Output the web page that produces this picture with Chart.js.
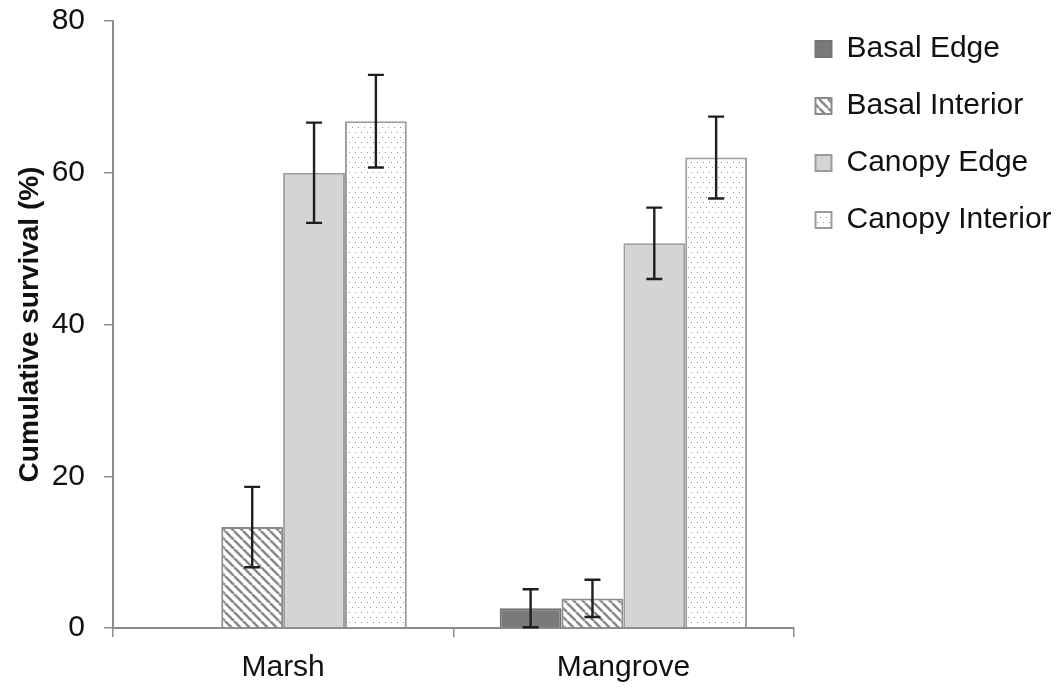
<!DOCTYPE html>
<html>
<head>
<meta charset="utf-8">
<script src="https://cdn.jsdelivr.net/npm/chart.js@4/dist/chart.umd.min.js"></script>
<style>
html, body { margin: 0; padding: 0; background: #ffffff; }
canvas { display: block; }
</style>
</head>
<body>
<canvas id="chart" width="1063" height="689"></canvas>
<script>
// ---- data ----
const categories = ['Marsh', 'Mangrove'];
const seriesNames = ['Basal Edge', 'Basal Interior', 'Canopy Edge', 'Canopy Interior'];
const basalEdge = [0, 2.6];
const basalInterior = [13.3, 3.9];
const canopyEdge = [60.0, 50.7];
const canopyInterior = [66.8, 62.0];
const basalEdgeErr = [0, 2.5];
const basalInteriorErr = [5.3, 2.45];
const canopyEdgeErr = [6.6, 4.7];
const canopyInteriorErr = [6.1, 5.4];
const yTicks = [0, 20, 40, 60, 80];
const yTitle = 'Cumulative survival (%)';

const FONT = "'Liberation Sans', Arial, Helvetica, sans-serif";

// ---- fill patterns ----
function stripePattern() {
  const s = 9;
  const c = document.createElement('canvas');
  c.width = s; c.height = s;
  const g = c.getContext('2d');
  g.fillStyle = '#ffffff';
  g.fillRect(0, 0, s, s);
  g.strokeStyle = '#8a8a8a';
  g.lineWidth = 2.6;
  g.beginPath();
  [-s, 0, s].forEach(o => { g.moveTo(o, 0); g.lineTo(o + s, s); });
  g.stroke();
  return g.createPattern(c, 'repeat');
}
function dotPattern() {
  const w = 6, h = 10;
  const c = document.createElement('canvas');
  c.width = w; c.height = h;
  const g = c.getContext('2d');
  g.fillStyle = '#ffffff';
  g.fillRect(0, 0, w, h);
  g.fillStyle = '#8f8f8f';
  g.fillRect(1, 2, 1, 1);
  g.fillRect(4, 7, 1, 1);
  return g.createPattern(c, 'repeat');
}

// ---- error bars drawn through the y scale ----
const errorBarPlugin = {
  id: 'errorBars',
  afterDatasetsDraw(chart) {
    const ctx = chart.ctx;
    const yScale = chart.scales.y;
    chart.data.datasets.forEach((ds, di) => {
      const meta = chart.getDatasetMeta(di);
      meta.data.forEach((bar, i) => {
        const e = ds.errors[i];
        if (!e) return;
        const v = ds.data[i];
        const yt = yScale.getPixelForValue(v + e);
        const yb = yScale.getPixelForValue(Math.max(v - e, 0));
        const x = bar.x;
        const cap = 8;
        ctx.save();
        ctx.strokeStyle = '#1e1e1e';
        ctx.lineWidth = 2.4;
        ctx.beginPath();
        ctx.moveTo(x, yt); ctx.lineTo(x, yb);
        ctx.moveTo(x - cap, yt); ctx.lineTo(x + cap, yt);
        ctx.moveTo(x - cap, yb); ctx.lineTo(x + cap, yb);
        ctx.stroke();
        ctx.restore();
      });
    });
  }
};

// ---- place the built-in legend beside the plot ----
const legendPlacePlugin = {
  id: 'legendPlace',
  afterLayout(chart) {
    const L = chart.legend;
    if (!L) return;
    const w = L.width, h = L.height;
    L.left = chart.chartArea.right - 5;
    L.right = L.left + w;
    L.top = 7;
    L.bottom = L.top + h;
  }
};

const seriesValues = [basalEdge, basalInterior, canopyEdge, canopyInterior];
const seriesErrors = [basalEdgeErr, basalInteriorErr, canopyEdgeErr, canopyInteriorErr];
const fills = ['#7a7a7a', stripePattern(), '#d4d4d4', dotPattern()];
const borders = ['#727272', '#8a8a8a', '#9c9c9c', '#9c9c9c'];

const datasets = seriesNames.map((name, i) => ({
  label: name,
  data: seriesValues[i],
  errors: seriesErrors[i],
  backgroundColor: fills[i],
  borderColor: borders[i],
  borderWidth: 2,
  categoryPercentage: 0.727,
  barPercentage: 1.0
}));

new Chart(document.getElementById('chart'), {
  type: 'bar',
  data: { labels: categories, datasets },
  plugins: [errorBarPlugin, legendPlacePlugin],
  options: {
    responsive: false,
    animation: false,
    layout: { padding: { left: 0, right: 5, top: 0, bottom: 0 } },
    plugins: {
      legend: {
        position: 'right',
        align: 'start',
        labels: {
          boxWidth: 16,
          boxHeight: 16,
          padding: 27,
          color: '#111111',
          font: { family: FONT, size: 30 }
        }
      },
      tooltip: { enabled: false }
    },
    scales: {
      x: {
        afterFit(s) { s.height = 61; },
        grid: {
          display: true,
          drawOnChartArea: false,
          drawTicks: true,
          tickLength: 9,
          color: '#8c8c8c',
          lineWidth: 1.5
        },
        border: { display: true, color: '#8c8c8c', width: 2 },
        ticks: {
          color: '#111111',
          padding: 13,
          font: { family: FONT, size: 30 }
        }
      },
      y: {
        min: 0,
        max: 80,
        afterFit(s) { s.width = 113; s.paddingTop = 21; s.paddingBottom = 20; },
        afterBuildTicks(s) { s.ticks = yTicks.map(v => ({ value: v })); },
        grid: {
          display: true,
          drawOnChartArea: false,
          drawTicks: true,
          tickLength: 9,
          color: '#8c8c8c',
          lineWidth: 1.5
        },
        border: { display: true, color: '#8c8c8c', width: 2 },
        ticks: {
          color: '#111111',
          padding: 19,
          font: { family: FONT, size: 30 }
        },
        title: {
          display: true,
          text: yTitle,
          color: '#111111',
          padding: { top: 13, bottom: 0 },
          font: { family: FONT, size: 28, weight: 'bold' }
        }
      }
    }
  }
});
</script>
</body>
</html>
